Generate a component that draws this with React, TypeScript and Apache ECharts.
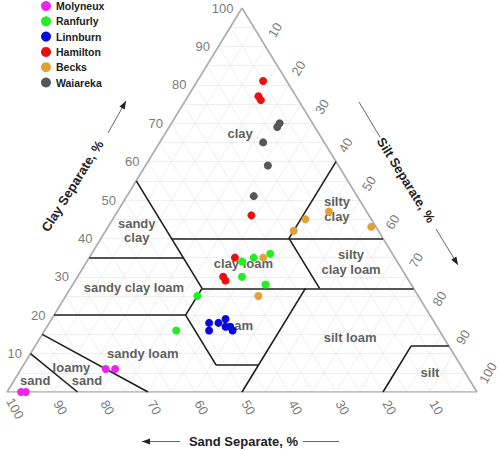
import React, { useEffect, useRef } from "react";
import * as echarts from "echarts";

// Each sample: [sand %, silt %, clay %]
const molyneux = [[76, 18, 6], [74, 20, 6], [97, 3, 0], [96, 4, 0]];
const ranfurly = [[30, 35, 35], [26, 38, 36], [35, 35, 30], [31, 41, 28], [47, 28, 25], [33, 33, 34], [56, 28, 16]];
const linnburn = [[48, 34, 18], [49, 35, 16], [46, 36, 18], [44, 37, 19], [44, 39, 17], [44, 40, 16], [45, 38, 17]];
const hamilton = [[5, 14, 81], [8, 15, 77], [8, 16, 76], [25, 29, 46], [34, 31, 35], [39, 31, 30], [39, 32, 29]];
const becks = [[14, 41, 45], [18, 40, 42], [8, 45, 47], [1, 56, 43], [28, 37, 35], [34, 41, 25]];
const waiareka = [[8, 23, 69], [7, 23, 70], [13, 22, 65], [15, 26, 59], [22, 27, 51]];

const siteNames = ["Molyneux", "Ranfurly", "Linnburn", "Hamilton", "Becks", "Waiareka"];
const siteData = [molyneux, ranfurly, linnburn, hamilton, becks, waiareka];
const siteColors = ["#ee22ee", "#22ee22", "#0a0ad8", "#e81010", "#e3a035", "#575757"];

const clayTicks = [10, 20, 30, 40, 50, 60, 70, 80, 90, 100];
const siltTicks = [10, 20, 30, 40, 50, 60, 70, 80, 90, 100];
const sandTicks = [100, 90, 80, 70, 60, 50, 40, 30, 20, 10];
const gridSteps = [5, 10, 15, 20, 25, 30, 35, 40, 45, 50, 55, 60, 65, 70, 75, 80, 85, 90, 95];

// USDA texture class boundaries, pairs of [sand, silt, clay]
const boundaries = [
  [[45, 0, 55], [45, 28, 27]],
  [[45, 15, 40], [0, 60, 40]],
  [[0, 40, 60], [20, 40, 40]],
  [[65, 0, 35], [45, 20, 35]],
  [[45, 28, 27], [0, 73, 27]],
  [[20, 40, 40], [20, 53, 27]],
  [[80, 0, 20], [52, 28, 20]],
  [[45, 28, 27], [52, 28, 20]],
  [[52, 28, 20], [52, 41, 7]],
  [[52, 41, 7], [43, 50, 7]],
  [[23, 50, 27], [50, 50, 0]],
  [[8, 80, 12], [0, 88, 12]],
  [[8, 80, 12], [20, 80, 0]],
  [[85, 0, 15], [70, 30, 0]],
  [[90, 0, 10], [85, 15, 0]],
];

// class names and their placement (in plot X/Y units)
const classLabels = [
  { text: "clay", at: [49.6, 67.2] },
  { text: "sandy\nclay", at: [27.6, 42.1] },
  { text: "silty\nclay", at: [70.2, 47.7] },
  { text: "clay loam", at: [50.3, 33.5] },
  { text: "silty\nclay loam", at: [73.2, 33.9] },
  { text: "sandy clay loam", at: [27.0, 27.3] },
  { text: "loam", at: [49.1, 17.2] },
  { text: "silt loam", at: [73.0, 14.3] },
  { text: "silt", at: [90.0, 5.2] },
  { text: "sandy loam", at: [28.9, 10.1] },
  { text: "loamy", at: [13.7, 6.3] },
  { text: "sand", at: [17.0, 2.9] },
  { text: "sand", at: [6.0, 2.9] },
];

const FONT = '"Liberation Sans", Arial, sans-serif';
const GL = 7, GT = 8, GW = 470, GH = 384;
const PX = GW / 100, PY = GH / 100;

const toXY = (p: number[]) => [p[1] + p[2] / 2, p[2]];

function arrow(x1: number, y1: number, x2: number, y2: number, head: boolean): any[] {
  const els: any[] = [
    { type: "line", shape: { x1, y1, x2, y2 }, style: { stroke: "#666", lineWidth: 1 } },
  ];
  if (head) {
    const dx = x2 - x1, dy = y2 - y1;
    const len = Math.hypot(dx, dy);
    const ux = dx / len, uy = dy / len;
    const bx = x2 - ux * 8, by = y2 - uy * 8;
    els.push({
      type: "polygon",
      shape: { points: [[x2, y2], [bx - uy * 3, by + ux * 3], [bx + uy * 3, by - ux * 3]] },
      style: { fill: "#222" },
    });
  }
  return els;
}

export default function App() {
  const ref = useRef<HTMLDivElement>(null);
  useEffect(() => {
    const chart = echarts.init(ref.current!, null, { renderer: "svg" });

    const gridSegs: any[] = [];
    gridSteps.forEach((k) => {
      gridSegs.push({ coords: [toXY([100 - k, 0, k]), toXY([0, 100 - k, k])] });
      gridSegs.push({ coords: [toXY([k, 0, 100 - k]), toXY([k, 100 - k, 0])] });
      gridSegs.push({ coords: [toXY([0, k, 100 - k]), toXY([100 - k, k, 0])] });
    });
    const edgeSegs = [
      { coords: [toXY([100, 0, 0]), toXY([0, 100, 0])] },
      { coords: [toXY([0, 100, 0]), toXY([0, 0, 100])] },
      { coords: [toXY([0, 0, 100]), toXY([100, 0, 0])] },
    ];
    const boundSegs = boundaries.map((b) => ({ coords: [toXY(b[0]), toXY(b[1])] }));

    const clayTickData = clayTicks.map((c) => ({ name: String(c), value: toXY([100 - c, 0, c]) }));
    const siltTickData = siltTicks.map((s) => {
      const p = toXY([0, s, 100 - s]);
      const d = String(s).length > 2 ? 22 : 19;
      return { name: String(s), value: [p[0] + (d * 0.5) / PX, p[1] + (d * 0.866) / PY] };
    });
    const sandTickData = sandTicks.map((s) => {
      const p = toXY([s, 100 - s, 0]);
      const long = String(s).length > 2;
      return { name: String(s), value: [p[0] + (long ? 8 : 6.5) / PX, p[1] - (long ? 16.5 : 15.5) / PY] };
    });

    const tickLabelStyle = { color: "#555", fontSize: 13, fontFamily: FONT };

    const option: any = {
      animation: false,
      backgroundColor: "#fff",
      textStyle: { fontFamily: FONT },
      grid: { left: GL, top: GT, width: GW, height: GH },
      xAxis: { type: "value", min: 0, max: 100, show: false },
      yAxis: { type: "value", min: 0, max: 100, show: false },
      legend: {
        data: siteNames,
        orient: "vertical",
        left: 41,
        top: 0.5,
        padding: 0,
        itemWidth: 10,
        itemHeight: 10,
        itemGap: 4.3,
        icon: "circle",
        textStyle: { fontSize: 10.5, fontWeight: "bold", color: "#222", lineHeight: 11, fontFamily: FONT },
      },
      series: [
        {
          type: "lines", coordinateSystem: "cartesian2d", silent: true, z: 1,
          lineStyle: { color: "#eaeaea", width: 0.8, opacity: 1 }, data: gridSegs,
        },
        {
          type: "lines", coordinateSystem: "cartesian2d", silent: true, z: 2,
          lineStyle: { color: "#ababab", width: 1.6, opacity: 1 }, data: edgeSegs,
        },
        {
          type: "lines", coordinateSystem: "cartesian2d", silent: true, z: 3,
          lineStyle: { color: "#1e1e1e", width: 1.6, opacity: 1 }, data: boundSegs,
        },
        {
          type: "scatter", silent: true, z: 4, symbolSize: 1, clip: false, itemStyle: { color: "transparent" },
          data: classLabels.map((c) => ({ name: c.text, value: c.at })),
          label: {
            show: true, position: "inside", formatter: "{b}", color: "#333",
            fontSize: 13, fontWeight: "bold", lineHeight: 14.5, align: "center", fontFamily: FONT,
          },
        },
        {
          type: "scatter", silent: true, z: 4, symbolSize: 1, clip: false, itemStyle: { color: "transparent" },
          data: clayTickData,
          label: { show: true, position: "left", distance: 8, formatter: "{b}", ...tickLabelStyle },
        },
        {
          type: "scatter", silent: true, z: 4, symbolSize: 1, clip: false, itemStyle: { color: "transparent" },
          data: siltTickData,
          label: { show: true, position: "inside", rotate: 60, formatter: "{b}", ...tickLabelStyle },
        },
        {
          type: "scatter", silent: true, z: 4, symbolSize: 1, clip: false, itemStyle: { color: "transparent" },
          data: sandTickData,
          label: { show: true, position: "inside", rotate: -60, formatter: "{b}", ...tickLabelStyle },
        },
        ...siteNames.map((name, i) => ({
          type: "scatter",
          name,
          z: 5,
          clip: false,
          symbol: "circle",
          symbolSize: 8,
          itemStyle: { color: siteColors[i], opacity: 1 },
          data: siteData[i].map((p) => toXY(p)),
        })),
      ],
      graphic: [
        {
          type: "text", x: 243.5, y: 441.5,
          style: {
            text: "Sand Separate, %", font: `bold 13px ${FONT}`, fill: "#222",
            textAlign: "center", textVerticalAlign: "middle", align: "center", verticalAlign: "middle",
          },
        },
        {
          type: "text", x: 72.5, y: 186, rotation: (58 * Math.PI) / 180,
          style: {
            text: "Clay Separate, %", font: `bold 13px ${FONT}`, fill: "#222",
            textAlign: "center", textVerticalAlign: "middle", align: "center", verticalAlign: "middle",
          },
        },
        {
          type: "text", x: 406, y: 180, rotation: (-58 * Math.PI) / 180,
          style: {
            text: "Silt Separate, %", font: `bold 13px ${FONT}`, fill: "#222",
            textAlign: "center", textVerticalAlign: "middle", align: "center", verticalAlign: "middle",
          },
        },
        ...arrow(108, 133, 126, 101, true),
        ...arrow(359, 102, 380, 137, false),
        ...arrow(436, 229, 458, 265, true),
        ...arrow(180, 441.5, 142, 441.5, true),
        ...arrow(303, 441.5, 339, 441.5, false),
      ],
    };
    chart.setOption(option);
    return () => chart.dispose();
  }, []);
  return (
    <div
      ref={ref}
      style={{ position: "fixed", left: 0, top: 0, width: 500, height: 451, background: "#fff" }}
    />
  );
}
